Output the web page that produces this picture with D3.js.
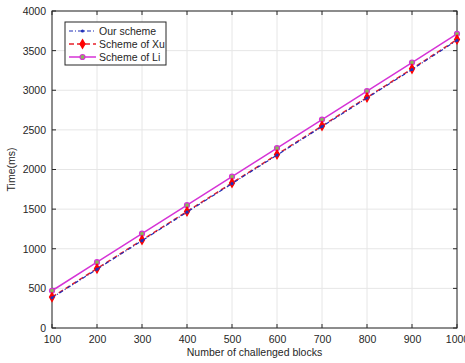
<head>
    <meta name="viewport" content="width=device-width, initial-scale=1">
    <style>
        body { margin: 0; background: #fff; }
        text { font-family: "Liberation Sans", Arial, sans-serif; fill: #262626; }
    </style>
    <script src="https://d3js.org/d3.v7.min.js"></script>
</head>
<body>
<div id="chart"></div>
<script>

    var blocks = [100, 200, 300, 400, 500, 600, 700, 800, 900, 1000];
    var ourScheme = [382, 742, 1102, 1462, 1822, 2182, 2542, 2902, 3262, 3630];
    var xuScheme = [390, 750, 1110, 1470, 1830, 2190, 2550, 2910, 3270, 3640];
    var liScheme = [470, 830, 1190, 1550, 1910, 2270, 2630, 2990, 3350, 3712];
    var yTicks = [0, 500, 1000, 1500, 2000, 2500, 3000, 3500, 4000];
    var legendNames = ["Our scheme", "Scheme of Xu", "Scheme of Li"];

    var W = 465, H = 363;
    var margin = { top: 11, right: 8, bottom: 35, left: 52 };
    var width = W - margin.left - margin.right,
        height = H - margin.top - margin.bottom;

    var svg = d3.select("#chart").append("svg")
        .attr("width", W)
        .attr("height", H);

    var focus = svg.append("g")
        .attr("transform", "translate(" + margin.left + "," + margin.top + ")");

    var x = d3.scaleLinear().domain([100, 1000]).range([0, width]);
    var y = d3.scaleLinear().domain([0, 4000]).range([height, 0]);

    // grid
    focus.append("g").selectAll("line").data(blocks).join("line")
        .attr("x1", d => x(d)).attr("x2", d => x(d))
        .attr("y1", 0).attr("y2", height)
        .attr("stroke", "#e6e6e6").attr("stroke-width", 1);
    focus.append("g").selectAll("line").data(yTicks).join("line")
        .attr("y1", d => y(d)).attr("y2", d => y(d))
        .attr("x1", 0).attr("x2", width)
        .attr("stroke", "#e6e6e6").attr("stroke-width", 1);

    // axes
    var xAxis = focus.append("g")
        .attr("transform", "translate(0," + height + ")")
        .call(d3.axisBottom(x).tickValues(blocks).tickFormat(d3.format("d")).tickSize(0).tickPadding(8));
    var yAxis = focus.append("g")
        .call(d3.axisLeft(y).tickValues(yTicks).tickFormat(d3.format("d")).tickSize(0).tickPadding(6));
    [xAxis, yAxis].forEach(a => {
        a.select(".domain").remove();
        a.selectAll("text").style("font-size", "10.5px").attr("fill", "#262626");
    });

    // inner ticks on all four sides
    var tk = 4;
    var ticks = focus.append("g").attr("stroke", "#262626").attr("stroke-width", 1);
    blocks.forEach(d => {
        ticks.append("line").attr("x1", x(d)).attr("x2", x(d)).attr("y1", height).attr("y2", height - tk);
        ticks.append("line").attr("x1", x(d)).attr("x2", x(d)).attr("y1", 0).attr("y2", tk);
    });
    yTicks.forEach(d => {
        ticks.append("line").attr("y1", y(d)).attr("y2", y(d)).attr("x1", 0).attr("x2", tk);
        ticks.append("line").attr("y1", y(d)).attr("y2", y(d)).attr("x1", width).attr("x2", width - tk);
    });

    focus.append("rect")
        .attr("width", width).attr("height", height)
        .attr("fill", "none").attr("stroke", "#262626").attr("stroke-width", 1);

    var line = d3.line()
        .x((d, i) => x(blocks[i]))
        .y(d => y(d));

    // Scheme of Li
    focus.append("path").datum(liScheme)
        .attr("fill", "none").attr("stroke", "#d633d6").attr("stroke-width", 1.5)
        .attr("d", line);
    focus.append("g").selectAll("circle").data(liScheme).join("circle")
        .attr("cx", (d, i) => x(blocks[i])).attr("cy", d => y(d)).attr("r", 2.5)
        .attr("fill", "#88b85a").attr("stroke", "#d633d6").attr("stroke-width", 1.2);

    // Scheme of Xu
    focus.append("path").datum(xuScheme)
        .attr("fill", "none").attr("stroke", "#e8212a").attr("stroke-width", 1.5)
        .attr("stroke-dasharray", "5,3")
        .attr("d", line);
    var star = d3.symbol().type(d3.symbolDiamond).size(22);
    focus.append("g").selectAll("path").data(xuScheme).join("path")
        .attr("transform", (d, i) => "translate(" + x(blocks[i]) + "," + y(d) + ")")
        .attr("d", star)
        .attr("fill", "#f00").attr("stroke", "#f00").attr("stroke-width", 1.2);

    // Our scheme
    focus.append("path").datum(ourScheme)
        .attr("fill", "none").attr("stroke", "#1f2fb8").attr("stroke-width", 1.2)
        .attr("stroke-dasharray", "4,2,1,2")
        .attr("d", line);
    focus.append("g").selectAll("circle").data(ourScheme).join("circle")
        .attr("cx", (d, i) => x(blocks[i])).attr("cy", d => y(d)).attr("r", 1.6)
        .attr("fill", "#1f2fb8");

    // legend
    var lg = svg.append("g").attr("transform", "translate(65,22)");
    lg.append("rect").attr("width", 101).attr("height", 43)
        .attr("fill", "#fff").attr("stroke", "#262626").attr("stroke-width", 1);
    var rows = lg.selectAll("g.row").data(legendNames).join("g")
        .attr("transform", (d, i) => "translate(0," + (9 + i * 13) + ")");
    rows.append("line").attr("x1", 4).attr("x2", 31).attr("y1", 0).attr("y2", 0)
        .attr("stroke", (d, i) => ["#1f2fb8", "#e8212a", "#d633d6"][i])
        .attr("stroke-width", (d, i) => [1.2, 1.5, 1.5][i])
        .attr("stroke-dasharray", (d, i) => ["4,2,1,2", "5,3", null][i]);
    rows.each(function(d, i) {
        var g = d3.select(this);
        if (i === 0) g.append("circle").attr("cx", 17.5).attr("r", 1.6).attr("fill", "#1f2fb8");
        if (i === 1) g.append("path").attr("transform", "translate(17.5,0)").attr("d", star).attr("fill", "#f00").attr("stroke", "#f00").attr("stroke-width", 1.2);
        if (i === 2) g.append("circle").attr("cx", 17.5).attr("r", 2.5).attr("fill", "#88b85a").attr("stroke", "#d633d6").attr("stroke-width", 1.2);
    });
    rows.append("text").attr("x", 34).attr("y", 4)
        .style("font-size", "10.5px").text(d => d);

    // axis labels
    svg.append("text")
        .attr("x", margin.left + width / 2).attr("y", 356)
        .attr("text-anchor", "middle").style("font-size", "10.5px")
        .text("Number of challenged blocks");
    svg.append("text")
        .attr("transform", "translate(15," + (margin.top + height / 2) + ") rotate(-90)")
        .attr("text-anchor", "middle").style("font-size", "10.5px")
        .text("Time(ms)");

</script>
</body>
